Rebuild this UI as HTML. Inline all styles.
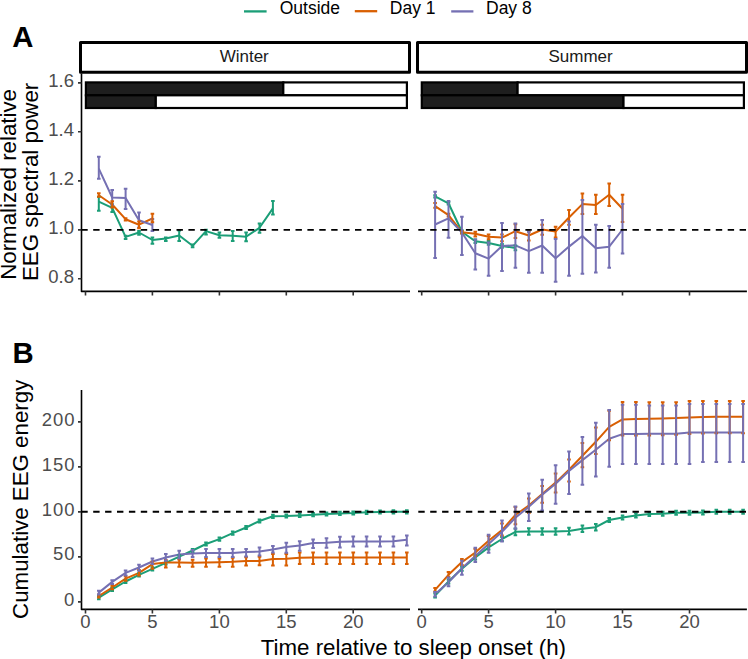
<!DOCTYPE html>
<html><head><meta charset="utf-8"><style>
html,body{margin:0;padding:0;background:#fff;width:748px;height:659px;overflow:hidden}
svg{display:block;font-family:"Liberation Sans",sans-serif}
</style></head><body>
<svg width="748" height="659" viewBox="0 0 748 659">
<defs>
<clipPath id="cAw"><rect x="80.5" y="72.3" width="329" height="219.1"/></clipPath>
<clipPath id="cAs"><rect x="417.5" y="72.3" width="329" height="219.1"/></clipPath>
<clipPath id="cBw"><rect x="80.5" y="389" width="329" height="220.4"/></clipPath>
<clipPath id="cBs"><rect x="417.5" y="389" width="329" height="220.4"/></clipPath>
</defs>
<g stroke-width="2.3"><line x1="244" y1="11.4" x2="266.6" y2="11.4" stroke="#1b9e77"/><line x1="354.8" y1="11.2" x2="377.2" y2="11.2" stroke="#d95f02"/><line x1="451.2" y1="11.4" x2="473.4" y2="11.4" stroke="#7570b3"/></g>
<g font-size="17.5" fill="#000"><text x="279.7" y="13.9">Outside</text><text x="389.8" y="13.7">Day 1</text><text x="486.0" y="13.7">Day 8</text></g>
<g font-weight="bold" font-size="29.3" fill="#000"><text x="12.3" y="46.7">A</text><text x="12.4" y="363.4">B</text></g>
<g fill="#fff" stroke="#000" stroke-width="3" stroke-linejoin="round"><rect x="80.5" y="42.4" width="329" height="29.9"/><rect x="417.5" y="42.4" width="329" height="29.9"/></g>
<g font-size="17" fill="#1a1a1a" text-anchor="middle"><text x="244.2" y="61.7">Winter</text><text x="580.6" y="61.7">Summer</text></g>
<g stroke="#000" stroke-width="2.2"><rect x="85.9" y="82.4" width="197.4" height="12.9" fill="#1e1e1e"/><rect x="283.3" y="82.4" width="123.6" height="12.9" fill="#fff"/><rect x="85.9" y="95.3" width="69.9" height="12.7" fill="#1e1e1e"/><rect x="155.8" y="95.3" width="251.1" height="12.7" fill="#fff"/></g>
<g stroke="#000" stroke-width="2.2"><rect x="421.8" y="82.4" width="95.8" height="12.9" fill="#1e1e1e"/><rect x="517.6" y="82.4" width="226.3" height="12.9" fill="#fff"/><rect x="421.8" y="95.3" width="201.7" height="12.7" fill="#1e1e1e"/><rect x="623.5" y="95.3" width="120.4" height="12.7" fill="#fff"/></g>
<g stroke="#000" stroke-width="1.6" fill="none" stroke-linejoin="round"><path d="M81.5 73.5V291.4H410"/><path d="M418 291.4H746.9"/><path d="M81.5 390V609.4H410"/><path d="M418 609.4H746.9"/></g>
<path d="M78 82.9H81.5M78 131.8H81.5M78 180.9H81.5M78 229.9H81.5M78 278.8H81.5M78 601.9H81.5M78 556.9H81.5M78 511.9H81.5M78 466.9H81.5M78 421.9H81.5M85.5 291.4V295.6M421.7 291.4V295.6M85.5 609.4V613.6M421.7 609.4V613.6M152.4 291.4V295.6M488.6 291.4V295.6M152.4 609.4V613.6M488.6 609.4V613.6M219.4 291.4V295.6M555.6 291.4V295.6M219.4 609.4V613.6M555.6 609.4V613.6M286.3 291.4V295.6M622.5 291.4V295.6M286.3 609.4V613.6M622.5 609.4V613.6M353.2 291.4V295.6M689.5 291.4V295.6M353.2 609.4V613.6M689.5 609.4V613.6" stroke="#333" stroke-width="1.6"/>
<g font-size="18.5" fill="#4d4d4d" text-anchor="end"><text x="74" y="86.9">1.6</text><text x="74" y="135.8">1.4</text><text x="74" y="184.9">1.2</text><text x="74" y="233.9">1.0</text><text x="74" y="282.8">0.8</text><text x="74.4" y="606.3">0</text><text x="75.4" y="559.7" letter-spacing="0.9">50</text><text x="75.4" y="515.9" letter-spacing="0.9">100</text><text x="75.4" y="470.9" letter-spacing="0.9">150</text><text x="75.4" y="425.9" letter-spacing="0.9">200</text></g><g font-size="18.5" fill="#4d4d4d" text-anchor="middle"><text x="85.5" y="627.8">0</text><text x="421.7" y="627.8">0</text><text x="152.4" y="627.8">5</text><text x="488.6" y="627.8">5</text><text x="219.4" y="627.8">10</text><text x="555.6" y="627.8">10</text><text x="286.3" y="627.8">15</text><text x="622.5" y="627.8">15</text><text x="353.2" y="627.8">20</text><text x="689.5" y="627.8">20</text></g>
<g font-size="22.3" fill="#000" text-anchor="middle"><text transform="translate(16,184.4) rotate(-90)">Normalized relative</text><text transform="translate(37.8,181.9) rotate(-90)">EEG spectral power</text><text transform="translate(27.6,499.3) rotate(-90)">Cumulative EEG energy</text><text x="413.4" y="654.5">Time relative to sleep onset (h)</text></g>
<polyline points="98.8,201.6 112.2,207.8 125.6,236.9 139.0,232.5 152.4,240.0 165.8,238.5 179.2,235.5 192.6,245.8 206.0,231.1 219.4,235.2 232.7,235.8 246.1,236.7 259.5,227.8 272.9,208.4" stroke="#1b9e77" stroke-width="2.0" fill="none" stroke-linejoin="round" stroke-linecap="butt" clip-path="url(#cAw)"/>
<polyline points="98.8,195.3 112.2,204.5 125.6,219.2 139.0,224.7 152.4,218.5" stroke="#d95f02" stroke-width="2.0" fill="none" stroke-linejoin="round" stroke-linecap="butt" clip-path="url(#cAw)"/>
<polyline points="98.8,168.7 112.2,197.5 125.6,197.9 139.0,220.2 152.4,225.0" stroke="#7570b3" stroke-width="2.0" fill="none" stroke-linejoin="round" stroke-linecap="butt" clip-path="url(#cAw)"/>
<path d="M98.8 196.8V210.7M97.0 196.8H100.6M97.0 210.7H100.6M112.2 204.5V211.9M110.4 204.5H114.0M110.4 211.9H114.0M125.6 235.8V239.0M123.8 235.8H127.4M123.8 239.0H127.4M139.0 231.0V234.7M137.2 231.0H140.8M137.2 234.7H140.8M152.4 237.6V243.8M150.6 237.6H154.2M150.6 243.8H154.2M165.8 237.4V241.1M164.0 237.4H167.6M164.0 241.1H167.6M179.2 230.5V241.1M177.4 230.5H181.0M177.4 241.1H181.0M192.6 244.5V247.2M190.8 244.5H194.4M190.8 247.2H194.4M206.0 229.8V234.5M204.2 229.8H207.8M204.2 234.5H207.8M219.4 232.6V237.8M217.6 232.6H221.2M217.6 237.8H221.2M232.7 231.1V241.0M230.9 231.1H234.5M230.9 241.0H234.5M246.1 232.6V241.2M244.3 232.6H247.9M244.3 241.2H247.9M259.5 223.4V232.8M257.7 223.4H261.3M257.7 232.8H261.3M272.9 201.0V214.5M271.1 201.0H274.7M271.1 214.5H274.7" stroke="#1b9e77" stroke-width="2.0" fill="none" clip-path="url(#cAw)"/>
<path d="M98.8 156.7V178.7M97.0 156.7H100.6M97.0 178.7H100.6M112.2 190.1V204.8M110.4 190.1H114.0M110.4 204.8H114.0M125.6 188.8V209.0M123.8 188.8H127.4M123.8 209.0H127.4M139.0 212.6V227.5M137.2 212.6H140.8M137.2 227.5H140.8M152.4 219.0V231.0M150.6 219.0H154.2M150.6 231.0H154.2" stroke="#7570b3" stroke-width="2.0" fill="none" clip-path="url(#cAw)"/>
<path d="M98.8 193.2V196.8M97.0 193.2H100.6M97.0 196.8H100.6M112.2 201.2V207.5M110.4 201.2H114.0M110.4 207.5H114.0M125.6 218.2V220.4M123.8 218.2H127.4M123.8 220.4H127.4M139.0 221.4V228.3M137.2 221.4H140.8M137.2 228.3H140.8M152.4 213.8V222.3M150.6 213.8H154.2M150.6 222.3H154.2" stroke="#d95f02" stroke-width="2.0" fill="none" clip-path="url(#cAw)"/>
<polyline points="435.1,196.4 448.5,203.3 461.9,231.8 475.3,241.2 488.6,242.9 502.0,245.9 515.4,248.0" stroke="#1b9e77" stroke-width="2.0" fill="none" stroke-linejoin="round" stroke-linecap="butt" clip-path="url(#cAs)"/>
<polyline points="435.1,206.2 448.5,215.1 461.9,232.2 475.3,233.8 488.6,236.8 502.0,237.6 515.4,231.2 528.8,235.5 542.2,229.5 555.6,231.5 569.0,217.5 582.4,204.1 595.8,205.0 609.2,194.7 622.5,208.8" stroke="#d95f02" stroke-width="2.0" fill="none" stroke-linejoin="round" stroke-linecap="butt" clip-path="url(#cAs)"/>
<polyline points="435.1,224.5 448.5,218.4 461.9,232.5 475.3,253.2 488.6,258.6 502.0,245.9 515.4,245.3 528.8,251.1 542.2,245.5 555.6,258.3 569.0,246.6 582.4,236.0 595.8,248.3 609.2,246.7 622.5,229.5" stroke="#7570b3" stroke-width="2.0" fill="none" stroke-linejoin="round" stroke-linecap="butt" clip-path="url(#cAs)"/>
<path d="M435.1 195.2V197.6M433.3 195.2H436.9M433.3 197.6H436.9M448.5 202.1V204.5M446.7 202.1H450.3M446.7 204.5H450.3M461.9 230.3V233.3M460.1 230.3H463.7M460.1 233.3H463.7M475.3 239.5V243.0M473.5 239.5H477.1M473.5 243.0H477.1M488.6 241.0V244.8M486.8 241.0H490.4M486.8 244.8H490.4M502.0 244.0V247.8M500.2 244.0H503.8M500.2 247.8H503.8M515.4 245.5V250.2M513.6 245.5H517.2M513.6 250.2H517.2" stroke="#1b9e77" stroke-width="2.0" fill="none" clip-path="url(#cAs)"/>
<path d="M435.1 203.0V207.8M433.3 203.0H436.9M433.3 207.8H436.9M448.5 213.8V216.5M446.7 213.8H450.3M446.7 216.5H450.3M461.9 231.0V233.4M460.1 231.0H463.7M460.1 233.4H463.7M475.3 231.8V236.5M473.5 231.8H477.1M473.5 236.5H477.1M488.6 234.5V239.2M486.8 234.5H490.4M486.8 239.2H490.4M502.0 234.5V241.2M500.2 234.5H503.8M500.2 241.2H503.8M515.4 224.3V237.9M513.6 224.3H517.2M513.6 237.9H517.2M528.8 231.5V240.6M527.0 231.5H530.6M527.0 240.6H530.6M542.2 224.8V234.8M540.4 224.8H544.0M540.4 234.8H544.0M555.6 226.8V237.5M553.8 226.8H557.4M553.8 237.5H557.4M569.0 210.1V224.8M567.2 210.1H570.8M567.2 224.8H570.8M582.4 193.4V214.1M580.6 193.4H584.2M580.6 214.1H584.2M595.8 194.7V214.1M594.0 194.7H597.6M594.0 214.1H597.6M609.2 183.4V206.1M607.4 183.4H611.0M607.4 206.1H611.0M622.5 194.7V222.1M620.8 194.7H624.3M620.8 222.1H624.3" stroke="#d95f02" stroke-width="2.0" fill="none" clip-path="url(#cAs)"/>
<path d="M435.1 191.7V258.1M433.3 191.7H436.9M433.3 258.1H436.9M448.5 201.1V237.7M446.7 201.1H450.3M446.7 237.7H450.3M461.9 216.8V255.1M460.1 216.8H463.7M460.1 255.1H463.7M475.3 239.4V269.5M473.5 239.4H477.1M473.5 269.5H477.1M488.6 242.5V275.8M486.8 242.5H490.4M486.8 275.8H490.4M502.0 223.1V270.9M500.2 223.1H503.8M500.2 270.9H503.8M515.4 223.5V267.8M513.6 223.5H517.2M513.6 267.8H517.2M528.8 231.8V272.8M527.0 231.8H530.6M527.0 272.8H530.6M542.2 220.1V272.8M540.4 220.1H544.0M540.4 272.8H544.0M555.6 238.9V281.8M553.8 238.9H557.4M553.8 281.8H557.4M569.0 221.5V275.8M567.2 221.5H570.8M567.2 275.8H570.8M582.4 200.1V273.8M580.6 200.1H584.2M580.6 273.8H584.2M595.8 224.8V272.5M594.0 224.8H597.6M594.0 272.5H597.6M609.2 226.1V267.8M607.4 226.1H611.0M607.4 267.8H611.0M622.5 204.1V253.6M620.8 204.1H624.3M620.8 253.6H624.3" stroke="#7570b3" stroke-width="2.0" fill="none" clip-path="url(#cAs)"/>
<polyline points="98.8,597.6 112.2,589.4 125.6,581.5 139.0,574.8 152.4,568.8 165.8,562.8 179.2,556.6 192.6,550.5 206.0,544.0 219.4,539.1 232.7,533.1 246.1,527.5 259.5,521.0 272.9,516.3 286.3,516.0 299.7,515.4 313.1,514.7 326.5,514.0 339.9,513.4 353.2,513.0 366.6,512.3 380.0,512.0 393.4,511.8 406.8,511.8" stroke="#1b9e77" stroke-width="2.0" fill="none" stroke-linejoin="round" stroke-linecap="butt" clip-path="url(#cBw)"/>
<polyline points="98.8,596.0 112.2,587.5 125.6,578.7 139.0,572.8 152.4,564.1 165.8,562.4 179.2,562.6 192.6,562.8 206.0,562.5 219.4,562.2 232.7,561.8 246.1,561.1 259.5,561.0 272.9,559.0 286.3,558.8 299.7,557.8 313.1,557.5 326.5,557.5 339.9,557.5 353.2,557.5 366.6,557.5 380.0,557.5 393.4,557.5 406.8,557.5" stroke="#d95f02" stroke-width="2.0" fill="none" stroke-linejoin="round" stroke-linecap="butt" clip-path="url(#cBw)"/>
<polyline points="98.8,592.6 112.2,581.9 125.6,572.9 139.0,567.5 152.4,561.5 165.8,557.5 179.2,554.6 192.6,553.4 206.0,553.1 219.4,552.9 232.7,552.9 246.1,552.1 259.5,551.6 272.9,549.4 286.3,547.1 299.7,545.5 313.1,543.0 326.5,542.7 339.9,541.7 353.2,541.4 366.6,541.4 380.0,541.4 393.4,541.2 406.8,539.8" stroke="#7570b3" stroke-width="2.0" fill="none" stroke-linejoin="round" stroke-linecap="butt" clip-path="url(#cBw)"/>
<path d="M98.8 596.0V599.2M97.0 596.0H100.6M97.0 599.2H100.6M112.2 587.8V591.0M110.4 587.8H114.0M110.4 591.0H114.0M125.6 579.9V583.1M123.8 579.9H127.4M123.8 583.1H127.4M139.0 573.2V576.4M137.2 573.2H140.8M137.2 576.4H140.8M152.4 567.2V570.4M150.6 567.2H154.2M150.6 570.4H154.2M165.8 561.2V564.4M164.0 561.2H167.6M164.0 564.4H167.6M179.2 555.0V558.2M177.4 555.0H181.0M177.4 558.2H181.0M192.6 548.9V552.1M190.8 548.9H194.4M190.8 552.1H194.4M206.0 542.4V545.6M204.2 542.4H207.8M204.2 545.6H207.8M219.4 537.5V540.7M217.6 537.5H221.2M217.6 540.7H221.2M232.7 531.5V534.7M230.9 531.5H234.5M230.9 534.7H234.5M246.1 525.9V529.1M244.3 525.9H247.9M244.3 529.1H247.9M259.5 519.4V522.6M257.7 519.4H261.3M257.7 522.6H261.3M272.9 514.7V517.9M271.1 514.7H274.7M271.1 517.9H274.7M286.3 514.4V517.6M284.5 514.4H288.1M284.5 517.6H288.1M299.7 513.8V517.0M297.9 513.8H301.5M297.9 517.0H301.5M313.1 513.1V516.3M311.3 513.1H314.9M311.3 516.3H314.9M326.5 512.4V515.6M324.7 512.4H328.3M324.7 515.6H328.3M339.9 511.8V515.0M338.1 511.8H341.7M338.1 515.0H341.7M353.2 511.4V514.6M351.4 511.4H355.1M351.4 514.6H355.1M366.6 510.7V513.9M364.8 510.7H368.4M364.8 513.9H368.4M380.0 510.4V513.6M378.2 510.4H381.8M378.2 513.6H381.8M393.4 510.2V513.4M391.6 510.2H395.2M391.6 513.4H395.2M406.8 510.2V513.4M405.0 510.2H408.6M405.0 513.4H408.6" stroke="#1b9e77" stroke-width="2.0" fill="none" clip-path="url(#cBw)"/>
<path d="M98.8 594.4V597.6M97.0 594.4H100.6M97.0 597.6H100.6M112.2 585.7V589.2M110.4 585.7H114.0M110.4 589.2H114.0M125.6 576.3V580.8M123.8 576.3H127.4M123.8 580.8H127.4M139.0 570.0V575.5M137.2 570.0H140.8M137.2 575.5H140.8M152.4 561.5V568.8M150.6 561.5H154.2M150.6 568.8H154.2M165.8 560.1V567.5M164.0 560.1H167.6M164.0 567.5H167.6M179.2 559.5V566.8M177.4 559.5H181.0M177.4 566.8H181.0M192.6 559.8V566.8M190.8 559.8H194.4M190.8 566.8H194.4M206.0 558.5V566.8M204.2 558.5H207.8M204.2 566.8H207.8M219.4 558.5V566.8M217.6 558.5H221.2M217.6 566.8H221.2M232.7 557.8V566.8M230.9 557.8H234.5M230.9 566.8H234.5M246.1 557.2V565.4M244.3 557.2H247.9M244.3 565.4H247.9M259.5 556.8V565.3M257.7 556.8H261.3M257.7 565.3H261.3M272.9 554.1V565.5M271.1 554.1H274.7M271.1 565.5H274.7M286.3 554.1V565.5M284.5 554.1H288.1M284.5 565.5H288.1M299.7 552.4V563.9M297.9 552.4H301.5M297.9 563.9H301.5M313.1 552.4V563.9M311.3 552.4H314.9M311.3 563.9H314.9M326.5 552.4V563.9M324.7 552.4H328.3M324.7 563.9H328.3M339.9 552.4V563.9M338.1 552.4H341.7M338.1 563.9H341.7M353.2 552.4V563.9M351.4 552.4H355.1M351.4 563.9H355.1M366.6 552.4V563.9M364.8 552.4H368.4M364.8 563.9H368.4M380.0 552.4V563.9M378.2 552.4H381.8M378.2 563.9H381.8M393.4 552.4V563.9M391.6 552.4H395.2M391.6 563.9H395.2M406.8 552.4V563.9M405.0 552.4H408.6M405.0 563.9H408.6" stroke="#d95f02" stroke-width="2.0" fill="none" clip-path="url(#cBw)"/>
<path d="M98.8 590.8V594.4M97.0 590.8H100.6M97.0 594.4H100.6M112.2 580.2V583.9M110.4 580.2H114.0M110.4 583.9H114.0M125.6 570.6V575.4M123.8 570.6H127.4M123.8 575.4H127.4M139.0 564.8V570.8M137.2 564.8H140.8M137.2 570.8H140.8M152.4 558.4V564.1M150.6 558.4H154.2M150.6 564.1H154.2M165.8 553.9V560.8M164.0 553.9H167.6M164.0 560.8H167.6M179.2 550.7V558.6M177.4 550.7H181.0M177.4 558.6H181.0M192.6 550.1V557.1M190.8 550.1H194.4M190.8 557.1H194.4M206.0 549.1V557.1M204.2 549.1H207.8M204.2 557.1H207.8M219.4 549.1V557.1M217.6 549.1H221.2M217.6 557.1H221.2M232.7 549.1V557.1M230.9 549.1H234.5M230.9 557.1H234.5M246.1 549.1V556.5M244.3 549.1H247.9M244.3 556.5H247.9M259.5 547.5V555.6M257.7 547.5H261.3M257.7 555.6H261.3M272.9 546.1V552.4M271.1 546.1H274.7M271.1 552.4H274.7M286.3 542.8V552.8M284.5 542.8H288.1M284.5 552.8H288.1M299.7 541.2V550.8M297.9 541.2H301.5M297.9 550.8H301.5M313.1 539.4V547.9M311.3 539.4H314.9M311.3 547.9H314.9M326.5 538.3V547.7M324.7 538.3H328.3M324.7 547.7H328.3M339.9 536.8V547.5M338.1 536.8H341.7M338.1 547.5H341.7M353.2 536.4V546.5M351.4 536.4H355.1M351.4 546.5H355.1M366.6 536.4V546.5M364.8 536.4H368.4M364.8 546.5H368.4M380.0 536.4V546.5M378.2 536.4H381.8M378.2 546.5H381.8M393.4 536.4V546.5M391.6 536.4H395.2M391.6 546.5H395.2M406.8 535.4V545.5M405.0 535.4H408.6M405.0 545.5H408.6" stroke="#7570b3" stroke-width="2.0" fill="none" clip-path="url(#cBw)"/>
<polyline points="435.1,595.6 448.5,581.5 461.9,568.8 475.3,557.5 488.6,547.4 502.0,539.0 515.4,531.8 528.8,531.4 542.2,531.4 555.6,531.4 569.0,531.0 582.4,528.7 595.8,527.2 609.2,520.0 622.5,517.6 635.9,515.4 649.3,514.0 662.7,513.7 676.1,512.8 689.5,512.8 702.9,512.4 716.3,511.8 729.7,511.8 743.1,511.8" stroke="#1b9e77" stroke-width="2.0" fill="none" stroke-linejoin="round" stroke-linecap="butt" clip-path="url(#cBs)"/>
<polyline points="435.1,589.9 448.5,574.8 461.9,562.1 475.3,552.5 488.6,540.7 502.0,530.1 515.4,515.0 528.8,505.5 542.2,494.1 555.6,482.6 569.0,469.8 582.4,455.8 595.8,441.8 609.2,426.8 622.5,419.4 635.9,419.0 649.3,418.8 662.7,418.5 676.1,418.1 689.5,417.4 702.9,417.0 716.3,416.7 729.7,416.7 743.1,416.7" stroke="#d95f02" stroke-width="2.0" fill="none" stroke-linejoin="round" stroke-linecap="butt" clip-path="url(#cBs)"/>
<polyline points="435.1,594.2 448.5,582.2 461.9,568.2 475.3,556.1 488.6,544.1 502.0,531.8 515.4,517.8 528.8,506.8 542.2,494.8 555.6,483.8 569.0,471.0 582.4,460.1 595.8,449.7 609.2,438.8 622.5,434.1 635.9,434.1 649.3,433.7 662.7,433.7 676.1,433.7 689.5,432.5 702.9,432.5 716.3,432.5 729.7,432.5 743.1,432.5" stroke="#7570b3" stroke-width="2.0" fill="none" stroke-linejoin="round" stroke-linecap="butt" clip-path="url(#cBs)"/>
<path d="M435.1 593.6V597.6M433.3 593.6H436.9M433.3 597.6H436.9M448.5 579.5V583.5M446.7 579.5H450.3M446.7 583.5H450.3M461.9 566.8V570.8M460.1 566.8H463.7M460.1 570.8H463.7M475.3 555.5V559.5M473.5 555.5H477.1M473.5 559.5H477.1M488.6 545.4V549.4M486.8 545.4H490.4M486.8 549.4H490.4M502.0 537.0V541.0M500.2 537.0H503.8M500.2 541.0H503.8M515.4 528.6V535.2M513.6 528.6H517.2M513.6 535.2H517.2M528.8 528.2V534.8M527.0 528.2H530.6M527.0 534.8H530.6M542.2 528.2V534.8M540.4 528.2H544.0M540.4 534.8H544.0M555.6 528.2V534.8M553.8 528.2H557.4M553.8 534.8H557.4M569.0 527.8V534.4M567.2 527.8H570.8M567.2 534.4H570.8M582.4 525.5V532.1M580.6 525.5H584.2M580.6 532.1H584.2M595.8 524.0V530.6M594.0 524.0H597.6M594.0 530.6H597.6M609.2 518.0V522.0M607.4 518.0H611.0M607.4 522.0H611.0M622.5 515.6V519.6M620.8 515.6H624.3M620.8 519.6H624.3M635.9 513.4V517.4M634.1 513.4H637.7M634.1 517.4H637.7M649.3 512.0V516.0M647.5 512.0H651.1M647.5 516.0H651.1M662.7 511.7V515.7M660.9 511.7H664.5M660.9 515.7H664.5M676.1 510.8V514.8M674.3 510.8H677.9M674.3 514.8H677.9M689.5 510.8V514.8M687.7 510.8H691.3M687.7 514.8H691.3M702.9 510.4V514.4M701.1 510.4H704.7M701.1 514.4H704.7M716.3 509.8V513.8M714.5 509.8H718.1M714.5 513.8H718.1M729.7 509.8V513.8M727.9 509.8H731.5M727.9 513.8H731.5M743.1 509.8V513.8M741.3 509.8H744.9M741.3 513.8H744.9" stroke="#1b9e77" stroke-width="2.0" fill="none" clip-path="url(#cBs)"/>
<path d="M435.1 588.0V591.6M433.3 588.0H436.9M433.3 591.6H436.9M448.5 572.0V577.0M446.7 572.0H450.3M446.7 577.0H450.3M461.9 559.0V565.0M460.1 559.0H463.7M460.1 565.0H463.7M475.3 549.0V556.0M473.5 549.0H477.1M473.5 556.0H477.1M488.6 536.0V545.0M486.8 536.0H490.4M486.8 545.0H490.4M502.0 523.4V535.4M500.2 523.4H503.8M500.2 535.4H503.8M515.4 507.0V524.2M513.6 507.0H517.2M513.6 524.2H517.2M528.8 498.6V512.9M527.0 498.6H530.6M527.0 512.9H530.6M542.2 486.1V502.8M540.4 486.1H544.0M540.4 502.8H544.0M555.6 473.4V492.4M553.8 473.4H557.4M553.8 492.4H557.4M569.0 459.4V481.4M567.2 459.4H570.8M567.2 481.4H570.8M582.4 443.0V467.2M580.6 443.0H584.2M580.6 467.2H584.2M595.8 427.5V454.1M594.0 427.5H597.6M594.0 454.1H597.6M609.2 410.7V440.2M607.4 410.7H611.0M607.4 440.2H611.0M622.5 402.1V435.5M620.8 402.1H624.3M620.8 435.5H624.3M635.9 402.1V435.5M634.1 402.1H637.7M634.1 435.5H637.7M649.3 402.2V435.4M647.5 402.2H651.1M647.5 435.4H651.1M662.7 402.2V435.2M660.9 402.2H664.5M660.9 435.2H664.5M676.1 402.2V434.8M674.3 402.2H677.9M674.3 434.8H677.9M689.5 401.1V434.0M687.7 401.1H691.3M687.7 434.0H691.3M702.9 401.1V433.5M701.1 401.1H704.7M701.1 433.5H704.7M716.3 401.1V433.2M714.5 401.1H718.1M714.5 433.2H718.1M729.7 401.1V433.2M727.9 401.1H731.5M727.9 433.2H731.5M743.1 401.1V433.2M741.3 401.1H744.9M741.3 433.2H744.9" stroke="#d95f02" stroke-width="2.0" fill="none" clip-path="url(#cBs)"/>
<path d="M435.1 592.0V596.5M433.3 592.0H436.9M433.3 596.5H436.9M448.5 577.5V586.2M446.7 577.5H450.3M446.7 586.2H450.3M461.9 560.8V574.8M460.1 560.8H463.7M460.1 574.8H463.7M475.3 547.7V562.1M473.5 547.7H477.1M473.5 562.1H477.1M488.6 534.7V552.8M486.8 534.7H490.4M486.8 552.8H490.4M502.0 520.5V541.6M500.2 520.5H503.8M500.2 541.6H503.8M515.4 506.5V528.8M513.6 506.5H517.2M513.6 528.8H517.2M528.8 493.5V520.9M527.0 493.5H530.6M527.0 520.9H530.6M542.2 479.8V510.6M540.4 479.8H544.0M540.4 510.6H544.0M555.6 465.2V503.7M553.8 465.2H557.4M553.8 503.7H557.4M569.0 451.4V494.1M567.2 451.4H570.8M567.2 494.1H570.8M582.4 437.0V484.8M580.6 437.0H584.2M580.6 484.8H584.2M595.8 422.8V476.4M594.0 422.8H597.6M594.0 476.4H597.6M609.2 410.1V466.7M607.4 410.1H611.0M607.4 466.7H611.0M622.5 404.7V464.1M620.8 404.7H624.3M620.8 464.1H624.3M635.9 404.7V464.1M634.1 404.7H637.7M634.1 464.1H637.7M649.3 405.4V464.0M647.5 405.4H651.1M647.5 464.0H651.1M662.7 405.4V464.0M660.9 405.4H664.5M660.9 464.0H664.5M676.1 405.4V464.0M674.3 405.4H677.9M674.3 464.0H677.9M689.5 404.0V464.0M687.7 404.0H691.3M687.7 464.0H691.3M702.9 404.0V462.1M701.1 404.0H704.7M701.1 462.1H704.7M716.3 404.0V462.1M714.5 404.0H718.1M714.5 462.1H718.1M729.7 404.0V462.1M727.9 404.0H731.5M727.9 462.1H731.5M743.1 404.0V462.1M741.3 404.0H744.9M741.3 462.1H744.9" stroke="#7570b3" stroke-width="2.0" fill="none" clip-path="url(#cBs)"/>
<g stroke="#000" stroke-width="1.9" stroke-dasharray="6.4 5.5"><line x1="81.3" y1="229.9" x2="409.5" y2="229.9"/><line x1="418.3" y1="229.9" x2="746.5" y2="229.9"/><line x1="81.3" y1="511.7" x2="409.5" y2="511.7"/><line x1="418.3" y1="511.7" x2="746.5" y2="511.7"/></g>
</svg>
</body></html>
